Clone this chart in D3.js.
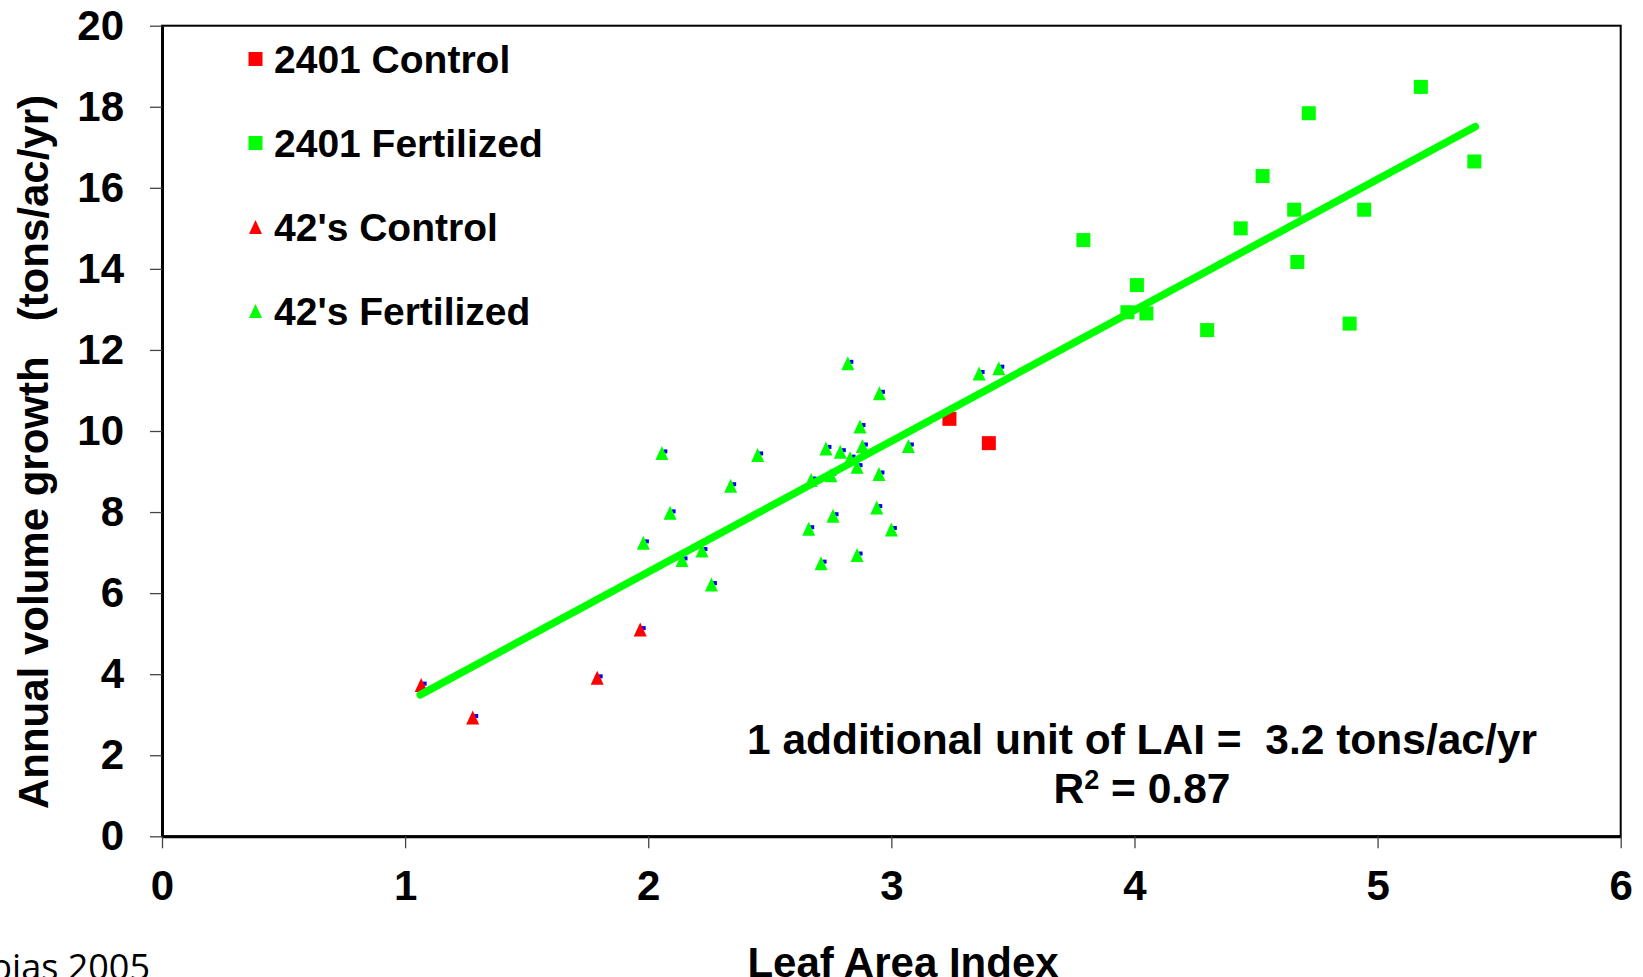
<!DOCTYPE html>
<html>
<head>
<meta charset="utf-8">
<script src="https://cdn.jsdelivr.net/npm/d3@7"></script>
<style>
  html, body { margin: 0; padding: 0; background: #fff; overflow: hidden; }
  svg text { font-family: "Liberation Sans", Arial, sans-serif; font-weight: bold; fill: #000; white-space: pre; }
</style>
</head>
<body>
<div id="chart"></div>
<script>
// chart data
const xTicks = [0, 1, 2, 3, 4, 5, 6]
const yTicks = [0, 2, 4, 6, 8, 10, 12, 14, 16, 18, 20]

// 2401 Control (red squares)
const ctl2401X = [3.239, 3.401]
const ctl2401Y = [10.30, 9.70]

// 2401 Fertilized (green squares)
const fert2401X = [3.790, 4.010, 3.971, 4.049, 4.299, 4.437, 4.527, 4.657, 4.670, 4.717, 4.885, 4.945, 5.178, 5.398]
const fert2401Y = [14.71, 13.60, 12.93, 12.90, 12.49, 15.00, 16.29, 15.46, 14.17, 17.84, 12.65, 15.46, 18.49, 16.65]

// 42's Control (red triangles)
const ctl42X = [1.066, 1.278, 1.790, 1.967]
const ctl42Y = [3.73, 2.93, 3.91, 5.10]

// 42's Fertilized (green triangles)
const fert42X = [2.821, 3.361, 3.442, 2.951, 2.871, 2.056, 2.450, 2.731, 2.790, 2.881,
                 3.070, 2.830, 2.859, 2.949, 2.751, 2.670, 2.339, 2.090, 2.760, 2.940,
                 2.660, 3.000, 1.980, 2.221, 2.139, 2.859, 2.711, 2.260]
const fert42Y = [11.67, 11.42, 11.55, 10.93, 10.11, 9.46, 9.41, 9.57, 9.49, 9.63,
                 9.63, 9.33, 9.12, 8.94, 8.91, 8.79, 8.65, 7.98, 7.91, 8.11,
                 7.59, 7.57, 7.24, 7.05, 6.82, 6.94, 6.74, 6.21]

// regression line end points
const fitX = [1.062, 5.402]
const fitY = [3.49, 17.51]

const legendNames = ['2401 Control', '2401 Fertilized', "42's Control", "42's Fertilized"]

const svgWidth = 1643
const svgHeight = 977
const margin = { top: 25.7, right: 22.3, bottom: 140.7, left: 162 }

const RED = '#ff0000'
const GREEN = '#00ff00'

const svg = d3.select('#chart').append('svg')
  .attr('width', svgWidth)
  .attr('height', svgHeight)

const x = d3.scaleLinear().domain([0, 6]).range([margin.left, svgWidth - margin.right])
const y = d3.scaleLinear().domain([0, 20]).range([svgHeight - margin.bottom, margin.top])

const zip = (xs, ys) => xs.map((v, i) => ({ x: v, y: ys[i] }))

// frame (top and right edges)
svg.append('rect')
  .attr('x', x(0)).attr('y', y(20))
  .attr('width', x(6) - x(0)).attr('height', y(0) - y(20))
  .attr('fill', 'none').attr('stroke', '#000').attr('stroke-width', 2)

// axes
const xAxisGroup = svg.append('g')
  .attr('transform', `translate(0, ${y(0)})`)
  .call(d3.axisBottom(x).tickValues(xTicks).tickFormat(d3.format('d')).tickSize(12).tickSizeOuter(0).tickPadding(22))
const yAxisGroup = svg.append('g')
  .attr('transform', `translate(${x(0)}, 0)`)
  .call(d3.axisLeft(y).tickValues(yTicks).tickFormat(d3.format('d')).tickSize(12).tickSizeOuter(0).tickPadding(26))

;[xAxisGroup, yAxisGroup].forEach(g => {
  g.select('.domain').attr('stroke', '#000').attr('stroke-width', 3)
  g.selectAll('.tick line').attr('stroke', '#444').attr('stroke-width', 1.3)
  g.selectAll('.tick text').style('font-size', '42px').attr('fill', '#000')
})

// markers
const squareSize = 14
const triPath = (cx, cy) => `M${cx},${cy - 7}L${cx + 6.5},${cy + 7}L${cx - 6.5},${cy + 7}Z`

function drawSquares(data, color) {
  svg.append('g').selectAll('rect')
    .data(data).enter().append('rect')
    .attr('x', d => x(d.x) - squareSize / 2)
    .attr('y', d => y(d.y) - squareSize / 2)
    .attr('width', squareSize).attr('height', squareSize)
    .attr('fill', color)
}

function drawTriangles(data, color) {
  const g = svg.append('g')
  // little blue bits peeking out from behind each triangle
  g.selectAll('rect')
    .data(data).enter().append('rect')
    .attr('x', d => x(d.x) + 1.5)
    .attr('y', d => y(d.y) - 3.5)
    .attr('width', 4).attr('height', 4)
    .attr('fill', '#0000ff')
  g.selectAll('path')
    .data(data).enter().append('path')
    .attr('d', d => triPath(x(d.x), y(d.y)))
    .attr('fill', color)
}

drawSquares(zip(ctl2401X, ctl2401Y), RED)
drawSquares(zip(fert2401X, fert2401Y), GREEN)
drawTriangles(zip(ctl42X, ctl42Y), RED)
drawTriangles(zip(fert42X, fert42Y), GREEN)

// regression line
svg.append('path')
  .datum(zip(fitX, fitY))
  .attr('d', d3.line().x(d => x(d.x)).y(d => y(d.y)))
  .attr('stroke', GREEN)
  .attr('stroke-width', 7.5)
  .attr('stroke-linecap', 'round')
  .attr('fill', 'none')

// legend
const legendColors = [RED, GREEN, RED, GREEN]
const legendShapes = ['square', 'square', 'tri', 'tri']
const legendGroup = svg.append('g')
legendNames.forEach((name, i) => {
  const cy = 59 + i * 84
  const cx = 255.5
  if (legendShapes[i] === 'square') {
    legendGroup.append('rect')
      .attr('x', cx - 7).attr('y', cy - 7)
      .attr('width', 14).attr('height', 14)
      .attr('fill', legendColors[i])
  } else {
    legendGroup.append('path')
      .attr('d', triPath(cx, cy))
      .attr('fill', legendColors[i])
  }
  legendGroup.append('text')
    .attr('x', 274).attr('y', cy + 14)
    .style('font-size', '39px')
    .text(name)
})

// axis titles
svg.append('text')
  .attr('text-anchor', 'middle')
  .attr('x', 903).attr('y', 977)
  .style('font-size', '42px')
  .text('Leaf Area Index')

svg.append('text')
  .attr('text-anchor', 'middle')
  .attr('transform', 'translate(48, 452) rotate(-90)')
  .style('font-size', '42px')
  .text('Annual volume growth   (tons/ac/yr)')

// annotation
svg.append('text')
  .attr('text-anchor', 'middle')
  .attr('x', 1142).attr('y', 754)
  .style('font-size', '42.5px')
  .text('1 additional unit of LAI =  3.2 tons/ac/yr')

const r2 = svg.append('text')
  .attr('text-anchor', 'middle')
  .attr('x', 1142).attr('y', 803)
  .style('font-size', '42.5px')
r2.append('tspan').text('R')
r2.append('tspan').attr('dy', -14).style('font-size', '27px').text('2')
r2.append('tspan').attr('dy', 14).text(' = 0.87')

// source note, cut off at the left edge as in the original slide
svg.append('text')
  .attr('text-anchor', 'end')
  .attr('x', 150).attr('y', 980)
  .style('font-family', '"Open Sans", sans-serif')
  .style('font-weight', 'normal')
  .style('font-size', '36px')
  .text('bias 2005')
</script>
</body>
</html>
